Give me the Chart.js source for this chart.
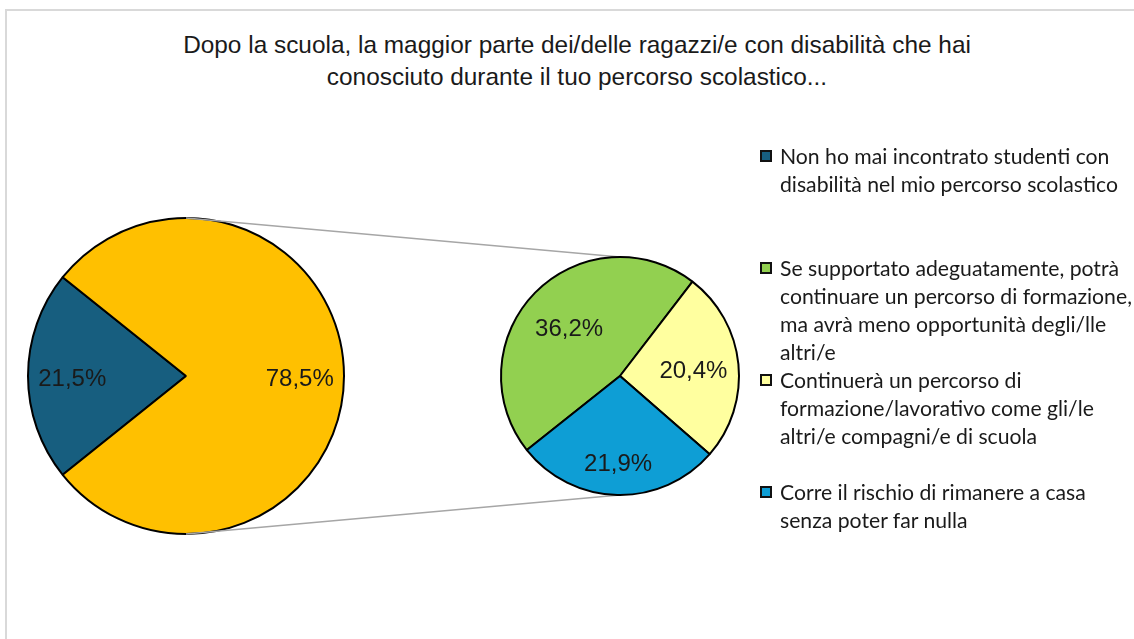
<!DOCTYPE html>
<html><head><meta charset="utf-8">
<script src="https://cdn.jsdelivr.net/npm/chart.js@4.4.0/dist/chart.umd.min.js"></script>
<style>
body{margin:0;width:1134px;height:639px;overflow:hidden;background:#fff;position:relative;}
.frame{position:absolute;left:5px;top:9px;width:1140px;height:640px;border-left:2px solid #d9d9d9;border-top:2px solid #d9d9d9;box-sizing:border-box}
canvas{position:absolute;left:0;top:0}
#title{position:absolute;left:0;width:1154px;top:29px;text-align:center;font-family:"Liberation Sans Narrow","Liberation Sans",sans-serif;font-size:24.4px;line-height:32px;color:#1a1a1a}
#legend{position:absolute;left:760px;top:0;font-family:Lato,"Open Sans",sans-serif;font-size:21.2px;line-height:28px;color:#1a1a1a}
.item{position:absolute;left:0;white-space:nowrap}
.box{position:absolute;left:0;top:8px;width:12px;height:12px;border:2px solid #111;box-sizing:border-box}
.txt{position:absolute;left:20px;top:0}
</style></head>
<body>
<div class="frame"></div>
<div id="title">Dopo la scuola, la maggior parte dei/delle ragazzi/e con disabilità che hai<br>conosciuto durante il tuo percorso scolastico...</div>
<canvas id="c1" width="1134" height="639"></canvas>
<canvas id="c2" width="1134" height="639"></canvas>
<div id="legend"></div>
<script>
// ---- data ----
const mainLabels = ["Non ho mai incontrato studenti con\ndisabilità nel mio percorso scolastico", "Altro"];
const mainValues = [21.5, 78.5];
const subLabels = [
  "Se supportato adeguatamente, potrà\ncontinuare un percorso di formazione,\nma avrà meno opportunità degli/lle\naltri/e",
  "Continuerà un percorso di\nformazione/lavorativo come gli/le\naltri/e compagni/e di scuola",
  "Corre il rischio di rimanere a casa\nsenza poter far nulla"
];
const subValues = [36.2, 20.4, 21.9];
const mainColors = ["#175e7f", "#ffc000"];
const subColors = ["#92d050", "#ffff9f", "#0e9ed5"];

const fmt = v => v.toFixed(1).replace('.', ',') + '%';

const labelPlugin = {
  id: 'pctLabels',
  afterDatasetsDraw(chart, args, opts) {
    const ctx = chart.ctx, meta = chart.getDatasetMeta(0), ds = chart.data.datasets[0];
    ctx.save();
    ctx.font = '24px "Liberation Sans", Arial, sans-serif';
    ctx.fillStyle = '#1a1a1a'; ctx.textAlign = 'center'; ctx.textBaseline = 'middle';
    meta.data.forEach((arc, i) => {
      const p = arc.getProps(['x', 'y', 'startAngle', 'endAngle', 'outerRadius'], true);
      const mid = (p.startAngle + p.endAngle) / 2;
      const rf = Array.isArray(opts.radial) ? opts.radial[i] : opts.radial;
      const r = p.outerRadius * rf;
      ctx.fillText(fmt(ds.data[i]), p.x + Math.cos(mid) * r, p.y + Math.sin(mid) * r + 3);
    });
    ctx.restore();
  }
};

const W = 1134, H = 639;
function pieOpts(cx, cy, r, rotation, radial) {
  return {
    responsive: false, animation: false, rotation: rotation, radius: r,
    layout: { padding: { left: cx - r - 1, right: W - cx - r - 1, top: cy - r - 1, bottom: H - cy - r - 1 } },
    plugins: { legend: { display: false }, tooltip: { enabled: false }, pctLabels: { radial: radial } }
  };
}

const mainChart = new Chart(document.getElementById('c1'), {
  type: 'pie',
  data: { labels: mainLabels, datasets: [{ data: mainValues, backgroundColor: mainColors, borderColor: '#000', borderWidth: 2 }] },
  options: pieOpts(186, 376, 158, 231.3, 0.72),
  plugins: [labelPlugin]
});

const connectorPlugin = {
  id: 'connectors',
  beforeDatasetsDraw(chart) {
    const a = mainChart.getDatasetMeta(0).data[0].getProps(['x', 'y', 'outerRadius'], true);
    const b = chart.getDatasetMeta(0).data[0].getProps(['x', 'y', 'outerRadius'], true);
    const ctx = chart.ctx;
    ctx.save(); ctx.strokeStyle = '#a6a6a6'; ctx.lineWidth = 1.5;
    ctx.beginPath();
    ctx.moveTo(a.x, a.y - a.outerRadius); ctx.lineTo(b.x, b.y - b.outerRadius);
    ctx.moveTo(a.x, a.y + a.outerRadius); ctx.lineTo(b.x, b.y + b.outerRadius);
    ctx.stroke(); ctx.restore();
  }
};

new Chart(document.getElementById('c2'), {
  type: 'pie',
  data: { labels: subLabels, datasets: [{ data: subValues, backgroundColor: subColors, borderColor: '#000', borderWidth: 2 }] },
  options: pieOpts(620, 376, 119, 231.5, [0.6, 0.62, 0.72]),
  plugins: [connectorPlugin, labelPlugin]
});

// ---- legend ----
const legendItems = [
  { label: mainLabels[0], color: mainColors[0] },
  ...subLabels.map((l, i) => ({ label: l, color: subColors[i] }))
];
const leg = document.getElementById('legend');
legendItems.forEach((it, i) => {
  const d = document.createElement('div');
  d.className = 'item'; d.style.top = (142 + i * 112) + 'px';
  const b = document.createElement('div'); b.className = 'box'; b.style.background = it.color;
  const t = document.createElement('div'); t.className = 'txt';
  t.innerHTML = it.label.split('\n').join('<br>');
  d.appendChild(b); d.appendChild(t); leg.appendChild(d);
});
</script>
</body></html>
